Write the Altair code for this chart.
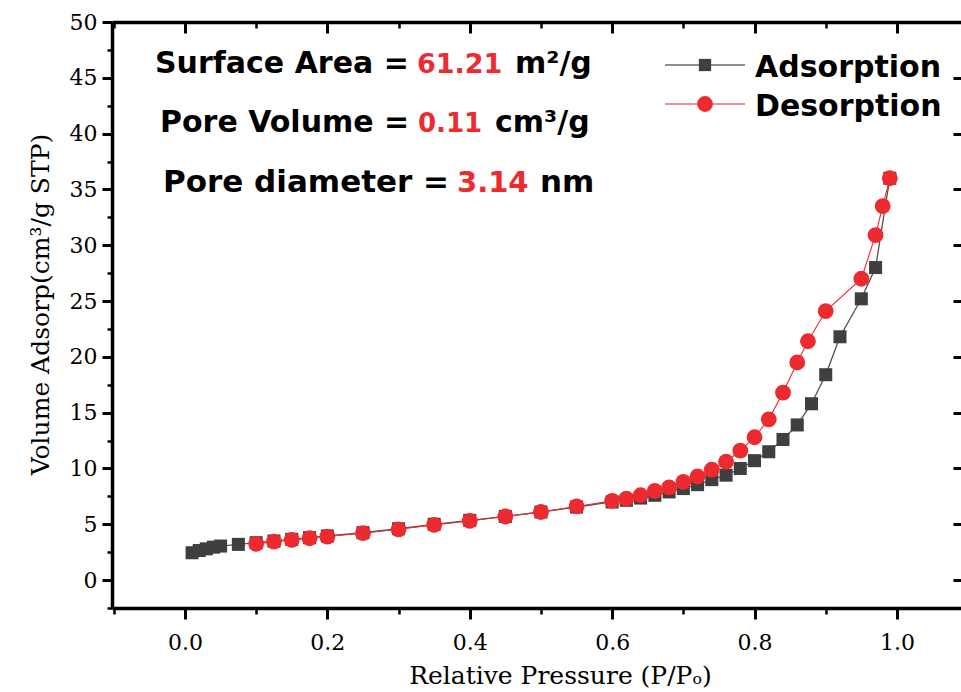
import altair as alt
import pandas as pd

# ---------------- data ----------------
ads_x = [0.01, 0.02, 0.03, 0.04, 0.05, 0.075, 0.10, 0.125, 0.15, 0.175, 0.20, 0.25,
         0.30, 0.35, 0.40, 0.45, 0.50, 0.55, 0.60, 0.62, 0.64, 0.66, 0.68, 0.70,
         0.72, 0.74, 0.76, 0.78, 0.80, 0.82, 0.84, 0.86, 0.88, 0.90, 0.92, 0.95,
         0.97, 0.99]
ads_y = [2.45, 2.65, 2.80, 2.95, 3.05, 3.20, 3.35, 3.50, 3.65, 3.80, 3.95, 4.25,
         4.60, 5.00, 5.35, 5.70, 6.10, 6.55, 7.00, 7.15, 7.35, 7.60, 7.90, 8.20,
         8.55, 9.00, 9.40, 10.0, 10.7, 11.5, 12.6, 13.9, 15.8, 18.4, 21.8, 25.2,
         28.0, 36.0]

des_x = [0.10, 0.125, 0.15, 0.175, 0.20, 0.25, 0.30, 0.35, 0.40, 0.45, 0.50, 0.55,
         0.60, 0.62, 0.64, 0.66, 0.68, 0.70, 0.72, 0.74, 0.76, 0.78, 0.80, 0.82,
         0.84, 0.86, 0.875, 0.90, 0.95, 0.97, 0.98, 0.99]
des_y = [3.25, 3.45, 3.60, 3.75, 3.90, 4.20, 4.55, 4.95, 5.30, 5.70, 6.10, 6.60,
         7.10, 7.30, 7.60, 8.00, 8.30, 8.80, 9.30, 9.90, 10.6, 11.6, 12.8, 14.4,
         16.8, 19.5, 21.4, 24.1, 27.0, 30.9, 33.5, 36.0]

series_names = ["Adsorption", "Desorption"]

x_major = [0.0, 0.2, 0.4, 0.6, 0.8, 1.0]
x_minor = [-0.1, 0.1, 0.3, 0.5, 0.7, 0.9]
y_major = [0, 5, 10, 15, 20, 25, 30, 35, 40, 45, 50]
y_minor = [-2.5, 2.5, 7.5, 12.5, 17.5, 22.5, 27.5, 32.5, 37.5, 42.5, 47.5]

ann_labels = ["Surface Area =", "Pore Volume =", "Pore diameter ="]
ann_values = ["61.21", "0.11", "3.14"]
ann_units = ["m\u00b2/g", "cm\u00b3/g", "nm"]

x_title = "Relative Pressure (P/P\u2092)"
y_title = "Volume Adsorp(cm\u00b3/g STP)"

# ---------------- layout ----------------
W, H = 849, 586
XD = [-0.1025, 1.09]
YD = [-2.5, 50]
GRAY = "#3f3f3f"
RED = "#ec2a2f"
SERIF = "DejaVu Serif"
SANS = "DejaVu Sans"

ads = pd.DataFrame({"p": ads_x, "v": ads_y, "s": series_names[0]})
des = pd.DataFrame({"p": des_x, "v": des_y, "s": series_names[1]})

xs = alt.Scale(domain=XD, nice=False, zero=False)
ys = alt.Scale(domain=YD, nice=False, zero=False)


def enc(xaxis, yaxis):
    return dict(x=alt.X("p:Q", scale=xs, axis=xaxis),
                y=alt.Y("v:Q", scale=ys, axis=yaxis))


common_axis = dict(domainColor="black", tickColor="black", labelColor="black",
                   grid=False)

x_main = alt.Axis(orient="bottom", values=x_major, format=".1f", tickSize=11,
                  tickWidth=3, domainWidth=3.5, labelFont=SERIF, labelFontSize=22,
                  labelPadding=13, title=x_title, titleFont=SERIF,
                  titleFontSize=25, titleFontWeight="normal", titleColor="black",
                  titleX=448, titleY=75, titleBaseline="alphabetic",
                  titleAnchor="start", titleAlign="center", **common_axis)
y_main = alt.Axis(orient="left", values=y_major, format="d", tickSize=10,
                  tickWidth=3, domainWidth=3.5, labelFont=SERIF, labelFontSize=22,
                  labelPadding=5, title=y_title, titleFont=SERIF,
                  titleFontSize=25, titleFontWeight="normal", titleColor="black",
                  titleX=-72, titleY=282, titleAngle=270, titleAlign="center",
                  titleBaseline="middle", titleAnchor="start", **common_axis)

x_min_ax = alt.Axis(orient="bottom", values=x_minor, tickSize=6, tickWidth=2.5,
                    labels=False, domain=False, title=None, **common_axis)
y_min_ax = alt.Axis(orient="left", values=y_minor, tickSize=5, tickWidth=2.5,
                    labels=False, domain=False, title=None, **common_axis)

x_top = alt.Axis(orient="bottom", offset=-H, values=x_major, tickSize=11,
                 tickWidth=3, domainWidth=3.5, labels=False, title=None,
                 **common_axis)
y_right = alt.Axis(orient="left", offset=-W, values=y_major, tickSize=8,
                   tickWidth=3, domain=False, labels=False, title=None,
                   **common_axis)
x_top_min = alt.Axis(orient="bottom", offset=-H, values=x_minor, tickSize=6,
                     tickWidth=2.5, domain=False, labels=False, title=None,
                     **common_axis)

inv = dict(opacity=0, size=1)
axes_main = alt.Chart(ads).mark_point(**inv).encode(**enc(x_main, y_main))
axes_minor = alt.Chart(ads).mark_point(**inv).encode(**enc(x_min_ax, y_min_ax))
axes_top = alt.Chart(ads).mark_point(**inv).encode(**enc(x_top, y_right))
axes_top_min = alt.Chart(ads).mark_point(**inv).encode(**enc(x_top_min, None))

ads_line = alt.Chart(ads).mark_line(color="#505050", strokeWidth=1.3).encode(
    **enc(None, None), order="p:Q")
ads_pts = alt.Chart(ads).mark_point(shape="square", filled=True, size=170,
                                    color=GRAY, opacity=1).encode(**enc(None, None))
des_line = alt.Chart(des).mark_line(color=RED, strokeWidth=1.1).encode(
    **enc(None, None), order="p:Q")
des_pts = alt.Chart(des).mark_point(shape="circle", filled=True, size=250,
                                    color=RED, opacity=1).encode(**enc(None, None))

# ---------------- annotations (upper left) ----------------
# (baseline y, label x, value x, unit x, label size, value size)
ann_rows = [(51, 43, 305, 403, 30, 27), (110, 48, 306, 383, 30, 26),
            (170, 51, 345, 428, 31, 29)]
ann_layers = []
for i, (yb, xl, xv, xu, fs, fv) in enumerate(ann_rows):
    df = pd.DataFrame({"a": [ann_labels[i]], "b": [ann_values[i]], "c": [ann_units[i]]})
    base = alt.Chart(df)
    kw = dict(font=SANS, fontWeight="bold", align="left", baseline="alphabetic")
    ann_layers.append(base.mark_text(color="black", fontSize=fs, **kw).encode(
        text="a:N", x=alt.value(xl), y=alt.value(yb)))
    ann_layers.append(base.mark_text(color=RED, fontSize=fv, **kw).encode(
        text="b:N", x=alt.value(xv), y=alt.value(yb)))
    ann_layers.append(base.mark_text(color="black", fontSize=fs, **kw).encode(
        text="c:N", x=alt.value(xu), y=alt.value(yb)))

# ---------------- legend (upper right, drawn manually) ----------------
leg_layers = []
leg_specs = [(series_names[0], "#6a6a6a", GRAY, "square", 150, 43),
             (series_names[1], "#f06a6d", RED, "circle", 250, 82)]
for name, lc, mc, shp, sz, yy in leg_specs:
    df = pd.DataFrame({"name": [name]})
    base = alt.Chart(df)
    leg_layers.append(base.mark_rule(color=lc, strokeWidth=1.3).encode(
        x=alt.value(553), x2=alt.value(633), y=alt.value(yy)))
    leg_layers.append(base.mark_point(shape=shp, filled=True, size=sz, color=mc,
                                      opacity=1).encode(x=alt.value(593),
                                                        y=alt.value(yy)))
    leg_layers.append(base.mark_text(font=SANS, fontWeight="bold", fontSize=30,
                                     align="left", baseline="alphabetic",
                                     color="black").encode(
        text="name:N", x=alt.value(643), y=alt.value(yy + 12)))

chart = alt.layer(
    axes_main, axes_minor, axes_top, axes_top_min,
    ads_line, ads_pts, des_line, des_pts,
    *ann_layers, *leg_layers
).resolve_axis(x="independent", y="independent").properties(
    width=W, height=H,
    padding={"left": 112, "top": 22, "right": 0, "bottom": 84},
    autosize=alt.AutoSizeParams(type="none"),
    background="white",
).configure_view(stroke=None)

chart.save("out.html", embed_options={"renderer": "svg", "actions": False})
